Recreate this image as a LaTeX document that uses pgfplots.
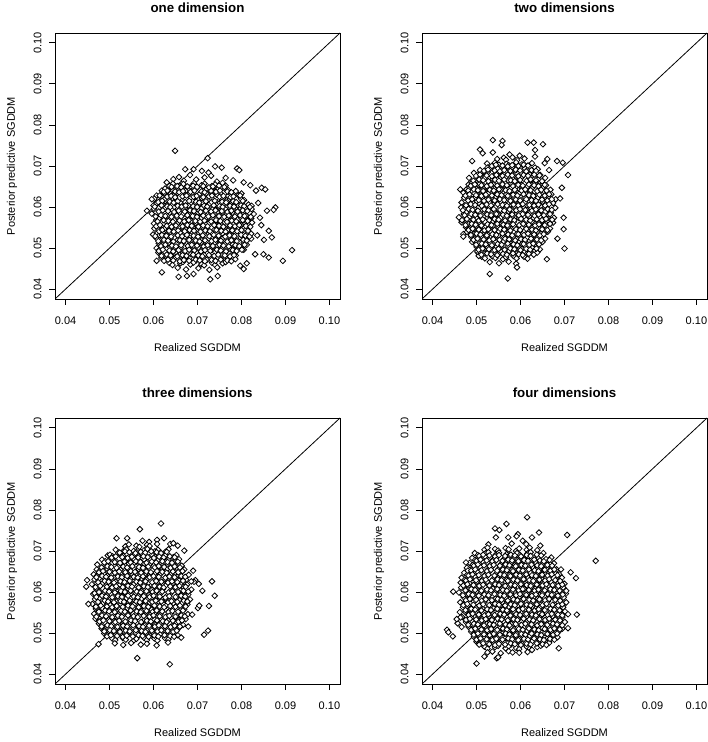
\documentclass[border=0pt]{standalone}
\usepackage{fontspec}
\setmainfont{Liberation Sans}
\usepackage{pgfplots}
\pgfplotsset{compat=1.18}
\pgfplotsset{
  rplot/.style={
    scale only axis, width=285pt, height=266pt,
    anchor=south west,
    xmin=0.0376, xmax=0.1024, ymin=0.0376, ymax=0.1024,
    xtick={0.04,0.05,0.06,0.07,0.08,0.09,0.10},
    ytick={0.04,0.05,0.06,0.07,0.08,0.09,0.10},
    xticklabels={0.04,0.05,0.06,0.07,0.08,0.09,0.10},
    yticklabels={0.04,0.05,0.06,0.07,0.08,0.09,0.10},
    xtick pos=left, ytick pos=left,
    tick align=outside, major tick length=6pt,
    every tick/.style={black, line width=0.8pt},
    axis line style={black, line width=0.8pt},
    tick label style={font=\fontsize{11}{13}\selectfont, text=black},
    label style={font=\fontsize{11}{13}\selectfont, text=black},
    title style={font=\bfseries\fontsize{13.3}{15}\selectfont, at={(axis description cs:0.5,1.071)}, anchor=center},
    xlabel style={at={(axis description cs:0.5,-0.184)}, anchor=center},
    ylabel style={at={(axis description cs:-0.151,0.5)}, anchor=center},
    xticklabel style={anchor=north},
    yticklabel style={rotate=90, anchor=south},
    xticklabel shift=8pt, yticklabel shift=4pt,
    xlabel={Realized SGDDM}, ylabel={Posterior predictive SGDDM},
    /pgf/number format/assume math mode=true,
  },
  pts/.style={only marks, mark=square*, mark size=2.0pt,
    mark options={rotate=45, fill=white, draw=black, line width=0.8pt}},
  diag/.style={black, line width=0.8pt},
}
\begin{document}
\begin{tikzpicture}
\path[use as bounding box] (0,0) rectangle (708pt,742pt);
% ---------------- one dimension
\begin{axis}[rplot, at={(55pt,443pt)}, title={one dimension}]
\addplot[diag] coordinates {(0.0376,0.0376) (0.1024,0.1024)};
\addplot[pts] coordinates {
(0.0649,0.0737) (0.0723,0.0719) (0.0672,0.0692) (0.0691,0.0692) (0.0710,0.0688) (0.0725,0.0684) (0.0740,0.0699) (0.0755,0.0696) (0.0790,0.0694) (0.0795,0.0690) (0.0630,0.0660) (0.0645,0.0668) (0.0846,0.0647) (0.0854,0.0643) (0.0833,0.0640) (0.0820,0.0653) (0.0805,0.0660) (0.0781,0.0665) (0.0764,0.0671)
(0.0658,0.0673) (0.0669,0.0664) (0.0697,0.0667) (0.0716,0.0672) (0.0744,0.0662) (0.0683,0.0678) (0.0731,0.0676)
(0.0636,0.0651) (0.0644,0.0657) (0.0661,0.0652) (0.0668,0.0656) (0.0685,0.0650) (0.0692,0.0658) (0.0709,0.0653) (0.0716,0.0657) (0.0733,0.0651) (0.0740,0.0655) (0.0757,0.0659) (0.0764,0.0652)
(0.0619,0.0640) (0.0626,0.0645) (0.0643,0.0641) (0.0650,0.0638) (0.0666,0.0644) (0.0673,0.0639) (0.0691,0.0643) (0.0698,0.0646) (0.0714,0.0640) (0.0721,0.0644) (0.0739,0.0638) (0.0746,0.0643) (0.0762,0.0645) (0.0770,0.0641) (0.0787,0.0639)
(0.0607,0.0628) (0.0624,0.0633) (0.0632,0.0627) (0.0649,0.0631) (0.0655,0.0634) (0.0672,0.0629) (0.0680,0.0632) (0.0697,0.0626) (0.0704,0.0631) (0.0721,0.0633) (0.0727,0.0628) (0.0744,0.0630) (0.0752,0.0634) (0.0769,0.0627) (0.0776,0.0632) (0.0793,0.0629) (0.0800,0.0633)
(0.0602,0.0620) (0.0618,0.0615) (0.0625,0.0619) (0.0643,0.0622) (0.0650,0.0616) (0.0667,0.0618) (0.0674,0.0621) (0.0690,0.0615) (0.0703,0.0619) (0.0710,0.0622) (0.0726,0.0616) (0.0733,0.0620) (0.0751,0.0617) (0.0758,0.0621) (0.0774,0.0619) (0.0781,0.0615) (0.0799,0.0620) (0.0806,0.0617)
(0.0600,0.0604) (0.0607,0.0609) (0.0625,0.0603) (0.0632,0.0607) (0.0648,0.0610) (0.0655,0.0605) (0.0673,0.0608) (0.0680,0.0603) (0.0696,0.0609) (0.0703,0.0606) (0.0721,0.0602) (0.0728,0.0608) (0.0744,0.0605) (0.0751,0.0610) (0.0768,0.0604) (0.0775,0.0607) (0.0793,0.0603) (0.0800,0.0609) (0.0816,0.0606) (0.0823,0.0603)
(0.0601,0.0596) (0.0619,0.0591) (0.0626,0.0597) (0.0642,0.0592) (0.0655,0.0595) (0.0661,0.0598) (0.0678,0.0591) (0.0685,0.0596) (0.0703,0.0593) (0.0709,0.0597) (0.0727,0.0592) (0.0734,0.0595) (0.0750,0.0598) (0.0757,0.0591) (0.0775,0.0596) (0.0782,0.0593) (0.0798,0.0597) (0.0805,0.0590) (0.0823,0.0595)
(0.0596,0.0584) (0.0612,0.0579) (0.0619,0.0583) (0.0637,0.0586) (0.0643,0.0580) (0.0660,0.0585) (0.0667,0.0582) (0.0685,0.0578) (0.0691,0.0584) (0.0709,0.0581) (0.0715,0.0585) (0.0733,0.0579) (0.0739,0.0583) (0.0756,0.0586) (0.0763,0.0580) (0.0781,0.0584) (0.0787,0.0581) (0.0805,0.0585) (0.0811,0.0579) (0.0828,0.0583)
(0.0606,0.0568) (0.0613,0.0573) (0.0631,0.0567) (0.0638,0.0571) (0.0654,0.0574) (0.0661,0.0569) (0.0679,0.0572) (0.0686,0.0566) (0.0702,0.0571) (0.0709,0.0574) (0.0727,0.0568) (0.0733,0.0572) (0.0751,0.0569) (0.0757,0.0573) (0.0774,0.0567) (0.0781,0.0571) (0.0799,0.0574) (0.0805,0.0568) (0.0822,0.0572)
(0.0601,0.0560) (0.0608,0.0555) (0.0624,0.0559) (0.0631,0.0562) (0.0649,0.0556) (0.0656,0.0561) (0.0672,0.0557) (0.0679,0.0554) (0.0697,0.0560) (0.0703,0.0555) (0.0720,0.0559) (0.0727,0.0562) (0.0745,0.0556) (0.0752,0.0560) (0.0768,0.0557) (0.0775,0.0554) (0.0793,0.0561) (0.0799,0.0556) (0.0817,0.0559) (0.0824,0.0562)
(0.0602,0.0548) (0.0619,0.0543) (0.0625,0.0547) (0.0643,0.0550) (0.0649,0.0544) (0.0667,0.0548) (0.0673,0.0545) (0.0690,0.0549) (0.0697,0.0543) (0.0715,0.0547) (0.0721,0.0550) (0.0738,0.0544) (0.0745,0.0548) (0.0762,0.0546) (0.0769,0.0542) (0.0786,0.0547) (0.0792,0.0550) (0.0810,0.0545) (0.0817,0.0549)
(0.0599,0.0533) (0.0608,0.0536) (0.0613,0.0531) (0.0631,0.0535) (0.0637,0.0538) (0.0655,0.0532) (0.0661,0.0537) (0.0679,0.0533) (0.0684,0.0530) (0.0703,0.0536) (0.0709,0.0531) (0.0726,0.0535) (0.0732,0.0538) (0.0750,0.0532) (0.0757,0.0536) (0.0774,0.0533) (0.0780,0.0530) (0.0798,0.0537) (0.0804,0.0532) (0.0822,0.0535)
(0.0607,0.0524) (0.0614,0.0519) (0.0630,0.0523) (0.0637,0.0526) (0.0655,0.0520) (0.0662,0.0525) (0.0678,0.0521) (0.0685,0.0518) (0.0703,0.0524) (0.0710,0.0519) (0.0726,0.0523) (0.0733,0.0526) (0.0750,0.0520) (0.0757,0.0524) (0.0775,0.0521) (0.0782,0.0518) (0.0798,0.0525) (0.0805,0.0520) (0.0822,0.0523)
(0.0612,0.0512) (0.0620,0.0507) (0.0636,0.0511) (0.0643,0.0514) (0.0661,0.0508) (0.0667,0.0513) (0.0684,0.0509) (0.0691,0.0506) (0.0709,0.0512) (0.0715,0.0507) (0.0733,0.0511) (0.0740,0.0514) (0.0757,0.0508) (0.0764,0.0512) (0.0780,0.0509) (0.0787,0.0506) (0.0805,0.0513) (0.0812,0.0508)
(0.0607,0.0500) (0.0613,0.0495) (0.0631,0.0499) (0.0638,0.0502) (0.0655,0.0496) (0.0662,0.0501) (0.0679,0.0497) (0.0686,0.0494) (0.0702,0.0500) (0.0709,0.0495) (0.0727,0.0499) (0.0734,0.0502) (0.0750,0.0496) (0.0757,0.0500) (0.0775,0.0497) (0.0782,0.0494) (0.0799,0.0501) (0.0805,0.0496)
(0.0613,0.0488) (0.0620,0.0483) (0.0637,0.0487) (0.0643,0.0490) (0.0660,0.0484) (0.0667,0.0489) (0.0685,0.0485) (0.0691,0.0482) (0.0708,0.0488) (0.0715,0.0483) (0.0733,0.0487) (0.0740,0.0490) (0.0756,0.0484) (0.0763,0.0488) (0.0781,0.0485) (0.0787,0.0482)
(0.0618,0.0476) (0.0625,0.0471) (0.0643,0.0475) (0.0650,0.0478) (0.0666,0.0472) (0.0673,0.0477) (0.0691,0.0473) (0.0697,0.0470) (0.0714,0.0476) (0.0721,0.0471) (0.0739,0.0475) (0.0746,0.0478) (0.0762,0.0472) (0.0769,0.0476) (0.0786,0.0473)
(0.0636,0.0464) (0.0643,0.0459) (0.0661,0.0463) (0.0667,0.0466) (0.0684,0.0460) (0.0691,0.0465) (0.0709,0.0461) (0.0715,0.0458) (0.0733,0.0464) (0.0740,0.0459) (0.0757,0.0463) (0.0764,0.0466)
(0.0655,0.0452) (0.0674,0.0448) (0.0702,0.0451) (0.0727,0.0447) (0.0745,0.0453)
(0.0877,0.0599) (0.0873,0.0593) (0.0858,0.0591) (0.0838,0.0610) (0.0842,0.0574) (0.0845,0.0556) (0.0836,0.0531) (0.0851,0.0520) (0.0862,0.0542) (0.0869,0.0526) (0.0915,0.0495) (0.0894,0.0469) (0.0850,0.0485) (0.0862,0.0477) (0.0831,0.0485) (0.0797,0.0457) (0.0805,0.0449) (0.0812,0.0463) (0.0729,0.0424) (0.0746,0.0432) (0.0657,0.0430) (0.0619,0.0441) (0.0676,0.0432) (0.0691,0.0437) (0.0607,0.0469) (0.0611,0.0489) (0.0585,0.0591) (0.0596,0.0619)
};
\addplot[pts] coordinates {
(0.0641,0.0649) (0.0654,0.0651) (0.0663,0.0648) (0.0677,0.0650) (0.0690,0.0652) (0.0699,0.0649) (0.0713,0.0651) (0.0726,0.0648) (0.0735,0.0650) (0.0749,0.0652) (0.0761,0.0649)
(0.0623,0.0637) (0.0632,0.0640) (0.0649,0.0638) (0.0658,0.0636) (0.0667,0.0639) (0.0684,0.0637) (0.0693,0.0640) (0.0709,0.0638) (0.0716,0.0636) (0.0731,0.0639) (0.0742,0.0637) (0.0751,0.0640) (0.0768,0.0638) (0.0777,0.0636)
(0.0614,0.0628) (0.0631,0.0625) (0.0640,0.0627) (0.0649,0.0624) (0.0666,0.0626) (0.0675,0.0628) (0.0691,0.0625) (0.0698,0.0627) (0.0713,0.0624) (0.0726,0.0626) (0.0733,0.0628) (0.0750,0.0625) (0.0759,0.0627) (0.0775,0.0624) (0.0782,0.0626) (0.0797,0.0628)
(0.0611,0.0612) (0.0620,0.0615) (0.0637,0.0613) (0.0646,0.0611) (0.0655,0.0614) (0.0672,0.0612) (0.0681,0.0615) (0.0697,0.0613) (0.0704,0.0611) (0.0719,0.0614) (0.0732,0.0612) (0.0739,0.0615) (0.0756,0.0613) (0.0765,0.0611) (0.0781,0.0614) (0.0788,0.0612) (0.0803,0.0615)
(0.0603,0.0601) (0.0618,0.0604) (0.0631,0.0602) (0.0638,0.0600) (0.0655,0.0603) (0.0664,0.0601) (0.0673,0.0604) (0.0690,0.0602) (0.0699,0.0600) (0.0715,0.0603) (0.0722,0.0601) (0.0737,0.0604) (0.0750,0.0602) (0.0757,0.0600) (0.0774,0.0603) (0.0783,0.0601) (0.0799,0.0604) (0.0806,0.0602) (0.0819,0.0600)
(0.0612,0.0589) (0.0621,0.0592) (0.0633,0.0590) (0.0647,0.0588) (0.0657,0.0591) (0.0671,0.0589) (0.0683,0.0592) (0.0692,0.0590) (0.0707,0.0588) (0.0719,0.0591) (0.0731,0.0589) (0.0741,0.0592) (0.0755,0.0590) (0.0768,0.0588) (0.0777,0.0591) (0.0791,0.0589) (0.0803,0.0592) (0.0813,0.0590)
(0.0605,0.0577) (0.0617,0.0580) (0.0627,0.0578) (0.0641,0.0576) (0.0653,0.0579) (0.0663,0.0577) (0.0677,0.0580) (0.0689,0.0578) (0.0699,0.0576) (0.0713,0.0579) (0.0725,0.0577) (0.0735,0.0580) (0.0749,0.0578) (0.0761,0.0576) (0.0771,0.0579) (0.0785,0.0577) (0.0797,0.0580) (0.0807,0.0578) (0.0821,0.0576)
(0.0609,0.0565) (0.0623,0.0568) (0.0634,0.0566) (0.0644,0.0564) (0.0659,0.0567) (0.0670,0.0565) (0.0680,0.0568) (0.0695,0.0566) (0.0706,0.0564) (0.0716,0.0567) (0.0731,0.0565) (0.0742,0.0568) (0.0752,0.0566) (0.0767,0.0564) (0.0778,0.0567) (0.0788,0.0565) (0.0803,0.0568) (0.0814,0.0566)
(0.0606,0.0553) (0.0615,0.0556) (0.0630,0.0554) (0.0641,0.0552) (0.0651,0.0555) (0.0666,0.0553) (0.0677,0.0556) (0.0687,0.0554) (0.0702,0.0552) (0.0713,0.0555) (0.0723,0.0553) (0.0738,0.0556) (0.0749,0.0554) (0.0759,0.0552) (0.0774,0.0555) (0.0785,0.0553) (0.0795,0.0556) (0.0810,0.0554) (0.0820,0.0552)
(0.0613,0.0541) (0.0620,0.0544) (0.0635,0.0542) (0.0646,0.0540) (0.0656,0.0543) (0.0671,0.0541) (0.0682,0.0544) (0.0692,0.0542) (0.0707,0.0540) (0.0718,0.0543) (0.0728,0.0541) (0.0743,0.0544) (0.0754,0.0542) (0.0764,0.0540) (0.0779,0.0543) (0.0790,0.0541) (0.0800,0.0544) (0.0815,0.0542)
(0.0604,0.0529) (0.0619,0.0532) (0.0629,0.0530) (0.0640,0.0528) (0.0655,0.0531) (0.0665,0.0529) (0.0676,0.0532) (0.0691,0.0530) (0.0701,0.0528) (0.0712,0.0531) (0.0727,0.0529) (0.0737,0.0532) (0.0748,0.0530) (0.0763,0.0528) (0.0773,0.0531) (0.0784,0.0529) (0.0799,0.0532) (0.0809,0.0530) (0.0818,0.0528)
(0.0611,0.0517) (0.0624,0.0520) (0.0633,0.0518) (0.0645,0.0516) (0.0660,0.0519) (0.0669,0.0517) (0.0681,0.0520) (0.0696,0.0518) (0.0705,0.0516) (0.0717,0.0519) (0.0732,0.0517) (0.0741,0.0520) (0.0753,0.0518) (0.0768,0.0516) (0.0777,0.0519) (0.0789,0.0517) (0.0804,0.0520) (0.0812,0.0518)
(0.0617,0.0505) (0.0627,0.0508) (0.0642,0.0506) (0.0651,0.0504) (0.0663,0.0507) (0.0678,0.0505) (0.0687,0.0508) (0.0699,0.0506) (0.0714,0.0504) (0.0723,0.0507) (0.0735,0.0505) (0.0750,0.0508) (0.0759,0.0506) (0.0771,0.0504) (0.0786,0.0507) (0.0795,0.0505) (0.0807,0.0508)
(0.0612,0.0493) (0.0621,0.0496) (0.0636,0.0494) (0.0645,0.0492) (0.0657,0.0495) (0.0672,0.0493) (0.0681,0.0496) (0.0693,0.0494) (0.0708,0.0492) (0.0717,0.0495) (0.0729,0.0493) (0.0744,0.0496) (0.0753,0.0494) (0.0765,0.0492) (0.0780,0.0495) (0.0789,0.0493) (0.0801,0.0496)
(0.0618,0.0481) (0.0630,0.0484) (0.0639,0.0482) (0.0654,0.0480) (0.0666,0.0483) (0.0675,0.0481) (0.0690,0.0484) (0.0702,0.0482) (0.0711,0.0480) (0.0726,0.0483) (0.0738,0.0481) (0.0747,0.0484) (0.0762,0.0482) (0.0774,0.0480) (0.0783,0.0483)
(0.0624,0.0469) (0.0633,0.0472) (0.0645,0.0470) (0.0660,0.0468) (0.0669,0.0471) (0.0681,0.0469) (0.0696,0.0472) (0.0705,0.0470) (0.0717,0.0468) (0.0732,0.0471) (0.0741,0.0469) (0.0753,0.0472) (0.0768,0.0470) (0.0777,0.0468)
};
\end{axis}
% ---------------- two dimensions
\begin{axis}[rplot, at={(422pt,443pt)}, title={two dimensions}]
\addplot[diag] coordinates {(0.0376,0.0376) (0.1024,0.1024)};
\addplot[pts] coordinates {
(0.0537,0.0763) (0.0559,0.0761) (0.0557,0.0751) (0.0616,0.0757) (0.0630,0.0757) (0.0651,0.0753) (0.0508,0.0740) (0.0514,0.0731) (0.0490,0.0712) (0.0537,0.0733) (0.0633,0.0739) (0.0633,0.0723) (0.0575,0.0728) (0.0598,0.0725) (0.0655,0.0707) (0.0665,0.0690) (0.0708,0.0678) (0.0696,0.0708) (0.0683,0.0712) (0.0661,0.0717)
(0.0547,0.0717) (0.0562,0.0720) (0.0567,0.0715) (0.0582,0.0721) (0.0592,0.0714) (0.0609,0.0718)
(0.0524,0.0706) (0.0542,0.0708) (0.0551,0.0703) (0.0568,0.0705) (0.0573,0.0702) (0.0590,0.0709) (0.0603,0.0704) (0.0611,0.0701) (0.0626,0.0707)
(0.0508,0.0690) (0.0525,0.0696) (0.0530,0.0692) (0.0548,0.0694) (0.0557,0.0689) (0.0574,0.0693) (0.0581,0.0697) (0.0591,0.0691) (0.0610,0.0694) (0.0616,0.0690) (0.0633,0.0696) (0.0639,0.0692)
(0.0494,0.0683) (0.0503,0.0679) (0.0520,0.0681) (0.0525,0.0684) (0.0541,0.0678) (0.0555,0.0682) (0.0562,0.0680) (0.0579,0.0684) (0.0585,0.0677) (0.0602,0.0681) (0.0616,0.0683) (0.0621,0.0679) (0.0638,0.0682) (0.0645,0.0678)
(0.0483,0.0671) (0.0500,0.0666) (0.0514,0.0670) (0.0519,0.0672) (0.0536,0.0667) (0.0549,0.0669) (0.0555,0.0673) (0.0572,0.0665) (0.0581,0.0670) (0.0597,0.0668) (0.0602,0.0672) (0.0619,0.0666) (0.0633,0.0670) (0.0640,0.0667) (0.0656,0.0671)
(0.0482,0.0655) (0.0489,0.0659) (0.0507,0.0656) (0.0514,0.0654) (0.0531,0.0660) (0.0538,0.0655) (0.0555,0.0658) (0.0561,0.0653) (0.0579,0.0657) (0.0586,0.0660) (0.0603,0.0654) (0.0610,0.0658) (0.0627,0.0655) (0.0633,0.0659) (0.0650,0.0656) (0.0658,0.0653)
(0.0477,0.0643) (0.0484,0.0647) (0.0501,0.0644) (0.0507,0.0641) (0.0525,0.0646) (0.0532,0.0643) (0.0549,0.0648) (0.0556,0.0642) (0.0573,0.0645) (0.0579,0.0648) (0.0597,0.0643) (0.0604,0.0646) (0.0621,0.0641) (0.0627,0.0647) (0.0645,0.0644) (0.0652,0.0648) (0.0668,0.0642)
(0.0470,0.0635) (0.0478,0.0631) (0.0495,0.0634) (0.0502,0.0630) (0.0519,0.0636) (0.0526,0.0632) (0.0543,0.0629) (0.0550,0.0635) (0.0567,0.0631) (0.0574,0.0636) (0.0591,0.0630) (0.0598,0.0634) (0.0615,0.0632) (0.0622,0.0636) (0.0639,0.0629) (0.0646,0.0633) (0.0663,0.0635) (0.0670,0.0631)
(0.0472,0.0623) (0.0489,0.0619) (0.0496,0.0622) (0.0513,0.0624) (0.0520,0.0618) (0.0537,0.0621) (0.0544,0.0625) (0.0561,0.0620) (0.0568,0.0617) (0.0585,0.0623) (0.0592,0.0619) (0.0609,0.0624) (0.0616,0.0621) (0.0633,0.0618) (0.0640,0.0623) (0.0657,0.0620) (0.0664,0.0624) (0.0680,0.0619)
(0.0466,0.0611) (0.0483,0.0607) (0.0490,0.0612) (0.0507,0.0608) (0.0514,0.0605) (0.0531,0.0610) (0.0538,0.0606) (0.0555,0.0612) (0.0562,0.0608) (0.0579,0.0605) (0.0586,0.0611) (0.0603,0.0607) (0.0610,0.0612) (0.0627,0.0606) (0.0634,0.0609) (0.0651,0.0612) (0.0657,0.0607) (0.0674,0.0610)
(0.0465,0.0599) (0.0472,0.0595) (0.0489,0.0600) (0.0495,0.0596) (0.0513,0.0593) (0.0519,0.0598) (0.0537,0.0595) (0.0543,0.0600) (0.0561,0.0594) (0.0567,0.0597) (0.0585,0.0601) (0.0591,0.0595) (0.0608,0.0598) (0.0615,0.0593) (0.0632,0.0599) (0.0639,0.0596) (0.0656,0.0600) (0.0663,0.0594) (0.0679,0.0598)
(0.0471,0.0583) (0.0477,0.0588) (0.0495,0.0584) (0.0501,0.0581) (0.0519,0.0587) (0.0525,0.0583) (0.0543,0.0588) (0.0549,0.0582) (0.0567,0.0585) (0.0573,0.0589) (0.0591,0.0583) (0.0597,0.0586) (0.0615,0.0581) (0.0621,0.0587) (0.0639,0.0584) (0.0645,0.0588) (0.0663,0.0582) (0.0669,0.0586)
(0.0460,0.0575) (0.0477,0.0571) (0.0484,0.0576) (0.0501,0.0572) (0.0508,0.0569) (0.0525,0.0574) (0.0532,0.0577) (0.0549,0.0571) (0.0556,0.0575) (0.0573,0.0570) (0.0580,0.0576) (0.0597,0.0573) (0.0604,0.0569) (0.0621,0.0575) (0.0628,0.0571) (0.0645,0.0576) (0.0652,0.0572) (0.0669,0.0569) (0.0676,0.0574)
(0.0466,0.0563) (0.0483,0.0559) (0.0490,0.0564) (0.0507,0.0560) (0.0513,0.0557) (0.0531,0.0562) (0.0537,0.0565) (0.0555,0.0559) (0.0561,0.0563) (0.0579,0.0558) (0.0585,0.0564) (0.0603,0.0561) (0.0609,0.0557) (0.0627,0.0563) (0.0633,0.0559) (0.0651,0.0564) (0.0657,0.0560) (0.0674,0.0562)
(0.0476,0.0551) (0.0483,0.0547) (0.0500,0.0552) (0.0507,0.0548) (0.0524,0.0545) (0.0531,0.0550) (0.0548,0.0553) (0.0555,0.0547) (0.0572,0.0551) (0.0579,0.0546) (0.0596,0.0552) (0.0603,0.0549) (0.0620,0.0545) (0.0627,0.0551) (0.0644,0.0547) (0.0651,0.0552) (0.0667,0.0548)
(0.0478,0.0539) (0.0495,0.0535) (0.0502,0.0540) (0.0519,0.0536) (0.0526,0.0533) (0.0543,0.0538) (0.0550,0.0541) (0.0567,0.0535) (0.0574,0.0539) (0.0591,0.0534) (0.0598,0.0540) (0.0615,0.0537) (0.0622,0.0533) (0.0639,0.0539) (0.0646,0.0535) (0.0662,0.0540)
(0.0488,0.0527) (0.0495,0.0523) (0.0512,0.0528) (0.0519,0.0524) (0.0536,0.0521) (0.0543,0.0526) (0.0560,0.0529) (0.0567,0.0523) (0.0584,0.0527) (0.0591,0.0522) (0.0608,0.0528) (0.0615,0.0525) (0.0632,0.0521) (0.0639,0.0527) (0.0656,0.0523)
(0.0490,0.0515) (0.0507,0.0511) (0.0514,0.0516) (0.0531,0.0512) (0.0538,0.0509) (0.0555,0.0514) (0.0562,0.0517) (0.0579,0.0511) (0.0586,0.0515) (0.0603,0.0510) (0.0610,0.0516) (0.0627,0.0513) (0.0634,0.0509) (0.0650,0.0515)
(0.0500,0.0503) (0.0507,0.0499) (0.0524,0.0504) (0.0531,0.0500) (0.0548,0.0497) (0.0555,0.0502) (0.0572,0.0505) (0.0579,0.0499) (0.0596,0.0503) (0.0603,0.0498) (0.0620,0.0504) (0.0627,0.0501) (0.0644,0.0497)
(0.0502,0.0491) (0.0519,0.0487) (0.0526,0.0492) (0.0543,0.0488) (0.0550,0.0485) (0.0567,0.0490) (0.0574,0.0493) (0.0591,0.0487) (0.0598,0.0491) (0.0615,0.0486) (0.0622,0.0492) (0.0638,0.0489)
(0.0512,0.0479) (0.0519,0.0475) (0.0536,0.0480) (0.0543,0.0476) (0.0560,0.0473) (0.0567,0.0478) (0.0584,0.0481) (0.0591,0.0475) (0.0608,0.0479) (0.0616,0.0474)
(0.0530,0.0466) (0.0551,0.0463) (0.0573,0.0467) (0.0590,0.0462)
(0.0463,0.0643) (0.0470,0.0570) (0.0470,0.0534) (0.0470,0.0528) (0.0571,0.0426) (0.0530,0.0437) (0.0592,0.0453) (0.0660,0.0473) (0.0700,0.0499) (0.0694,0.0647) (0.0690,0.0621) (0.0698,0.0574) (0.0698,0.0546) (0.0684,0.0523) (0.0505,0.0487) (0.0505,0.0481)
};
\addplot[pts] coordinates {
(0.0535,0.0700) (0.0544,0.0703) (0.0559,0.0701) (0.0571,0.0699) (0.0581,0.0702) (0.0595,0.0700) (0.0607,0.0703) (0.0617,0.0701)
(0.0517,0.0688) (0.0526,0.0691) (0.0541,0.0689) (0.0553,0.0687) (0.0563,0.0690) (0.0577,0.0688) (0.0589,0.0691) (0.0599,0.0689) (0.0613,0.0687) (0.0625,0.0690) (0.0635,0.0688)
(0.0499,0.0676) (0.0508,0.0679) (0.0523,0.0677) (0.0535,0.0675) (0.0545,0.0678) (0.0559,0.0676) (0.0571,0.0679) (0.0581,0.0677) (0.0595,0.0675) (0.0607,0.0678) (0.0617,0.0676) (0.0631,0.0679) (0.0643,0.0677)
(0.0493,0.0664) (0.0506,0.0667) (0.0515,0.0665) (0.0527,0.0663) (0.0542,0.0666) (0.0551,0.0664) (0.0563,0.0667) (0.0578,0.0665) (0.0587,0.0663) (0.0599,0.0666) (0.0614,0.0664) (0.0623,0.0667) (0.0635,0.0665) (0.0649,0.0663)
(0.0487,0.0652) (0.0496,0.0655) (0.0511,0.0653) (0.0523,0.0651) (0.0533,0.0654) (0.0547,0.0652) (0.0559,0.0655) (0.0569,0.0653) (0.0583,0.0651) (0.0595,0.0654) (0.0605,0.0652) (0.0619,0.0655) (0.0631,0.0653) (0.0641,0.0651) (0.0655,0.0654)
(0.0481,0.0640) (0.0494,0.0643) (0.0503,0.0641) (0.0515,0.0639) (0.0530,0.0642) (0.0539,0.0640) (0.0551,0.0643) (0.0566,0.0641) (0.0575,0.0639) (0.0587,0.0642) (0.0602,0.0640) (0.0611,0.0643) (0.0623,0.0641) (0.0638,0.0639) (0.0647,0.0642) (0.0659,0.0640)
(0.0475,0.0628) (0.0484,0.0631) (0.0499,0.0629) (0.0511,0.0627) (0.0521,0.0630) (0.0535,0.0628) (0.0547,0.0631) (0.0557,0.0629) (0.0571,0.0627) (0.0583,0.0630) (0.0593,0.0628) (0.0607,0.0631) (0.0619,0.0629) (0.0629,0.0627) (0.0643,0.0630) (0.0655,0.0628) (0.0665,0.0631)
(0.0481,0.0616) (0.0490,0.0619) (0.0505,0.0617) (0.0517,0.0615) (0.0527,0.0618) (0.0541,0.0616) (0.0553,0.0619) (0.0563,0.0617) (0.0577,0.0615) (0.0589,0.0618) (0.0599,0.0616) (0.0613,0.0619) (0.0625,0.0617) (0.0635,0.0615) (0.0649,0.0618) (0.0661,0.0616) (0.0671,0.0619)
(0.0476,0.0604) (0.0487,0.0607) (0.0497,0.0605) (0.0512,0.0603) (0.0523,0.0606) (0.0533,0.0604) (0.0548,0.0607) (0.0559,0.0605) (0.0569,0.0603) (0.0584,0.0606) (0.0595,0.0604) (0.0605,0.0607) (0.0620,0.0605) (0.0631,0.0603) (0.0641,0.0606) (0.0656,0.0604) (0.0665,0.0607)
(0.0469,0.0592) (0.0482,0.0595) (0.0491,0.0593) (0.0503,0.0591) (0.0518,0.0594) (0.0527,0.0592) (0.0539,0.0595) (0.0554,0.0593) (0.0563,0.0591) (0.0575,0.0594) (0.0590,0.0592) (0.0599,0.0595) (0.0611,0.0593) (0.0626,0.0591) (0.0635,0.0594) (0.0647,0.0592) (0.0662,0.0595) (0.0671,0.0593)
(0.0473,0.0580) (0.0488,0.0583) (0.0497,0.0581) (0.0509,0.0579) (0.0524,0.0582) (0.0533,0.0580) (0.0545,0.0583) (0.0560,0.0581) (0.0569,0.0579) (0.0581,0.0582) (0.0596,0.0580) (0.0605,0.0583) (0.0617,0.0581) (0.0632,0.0579) (0.0641,0.0582) (0.0653,0.0580) (0.0667,0.0583)
(0.0467,0.0568) (0.0478,0.0571) (0.0493,0.0569) (0.0505,0.0567) (0.0514,0.0570) (0.0529,0.0568) (0.0541,0.0571) (0.0550,0.0569) (0.0565,0.0567) (0.0577,0.0570) (0.0586,0.0568) (0.0601,0.0571) (0.0613,0.0569) (0.0622,0.0567) (0.0637,0.0570) (0.0649,0.0568) (0.0658,0.0571) (0.0672,0.0569)
(0.0475,0.0556) (0.0489,0.0559) (0.0498,0.0557) (0.0511,0.0555) (0.0525,0.0558) (0.0534,0.0556) (0.0547,0.0559) (0.0561,0.0557) (0.0570,0.0555) (0.0583,0.0558) (0.0597,0.0556) (0.0606,0.0559) (0.0619,0.0557) (0.0633,0.0555) (0.0642,0.0558) (0.0655,0.0556) (0.0667,0.0559)
(0.0482,0.0544) (0.0491,0.0547) (0.0505,0.0545) (0.0518,0.0543) (0.0527,0.0546) (0.0541,0.0544) (0.0554,0.0547) (0.0563,0.0545) (0.0577,0.0543) (0.0590,0.0546) (0.0599,0.0544) (0.0613,0.0547) (0.0626,0.0545) (0.0635,0.0543) (0.0649,0.0546) (0.0661,0.0544)
(0.0487,0.0532) (0.0500,0.0535) (0.0509,0.0533) (0.0523,0.0531) (0.0536,0.0534) (0.0545,0.0532) (0.0559,0.0535) (0.0572,0.0533) (0.0581,0.0531) (0.0595,0.0534) (0.0608,0.0532) (0.0617,0.0535) (0.0631,0.0533) (0.0644,0.0531) (0.0653,0.0534)
(0.0493,0.0520) (0.0502,0.0523) (0.0516,0.0521) (0.0529,0.0519) (0.0538,0.0522) (0.0552,0.0520) (0.0565,0.0523) (0.0574,0.0521) (0.0588,0.0519) (0.0601,0.0522) (0.0610,0.0520) (0.0624,0.0523) (0.0637,0.0521) (0.0647,0.0519)
(0.0499,0.0508) (0.0512,0.0511) (0.0521,0.0509) (0.0535,0.0507) (0.0548,0.0510) (0.0557,0.0508) (0.0571,0.0511) (0.0584,0.0509) (0.0593,0.0507) (0.0607,0.0510) (0.0620,0.0508) (0.0629,0.0511) (0.0642,0.0509)
(0.0505,0.0496) (0.0514,0.0499) (0.0528,0.0497) (0.0541,0.0495) (0.0550,0.0498) (0.0564,0.0496) (0.0577,0.0499) (0.0586,0.0497) (0.0600,0.0495) (0.0613,0.0498) (0.0622,0.0496) (0.0636,0.0499)
(0.0511,0.0484) (0.0524,0.0487) (0.0533,0.0485) (0.0547,0.0483) (0.0560,0.0486) (0.0569,0.0484) (0.0583,0.0487) (0.0596,0.0485) (0.0605,0.0483) (0.0619,0.0486) (0.0630,0.0484)
};
\end{axis}
% ---------------- three dimensions
\begin{axis}[rplot, at={(55pt,58pt)}, title={three dimensions}]
\addplot[diag] coordinates {(0.0376,0.0376) (0.1024,0.1024)};
\addplot[pts] coordinates {
(0.0617,0.0767) (0.0569,0.0753) (0.0516,0.0731) (0.0540,0.0731) (0.0624,0.0731) (0.0638,0.0717) (0.0645,0.0719) (0.0655,0.0713) (0.0670,0.0701) (0.0496,0.0689) (0.0590,0.0722) (0.0575,0.0725) (0.0608,0.0727)
(0.0536,0.0711) (0.0544,0.0716) (0.0561,0.0713) (0.0568,0.0710) (0.0585,0.0715) (0.0591,0.0712) (0.0608,0.0717)
(0.0514,0.0703) (0.0531,0.0699) (0.0538,0.0704) (0.0555,0.0700) (0.0562,0.0697) (0.0579,0.0702) (0.0586,0.0705) (0.0603,0.0699) (0.0610,0.0703) (0.0627,0.0698) (0.0634,0.0704)
(0.0501,0.0691) (0.0507,0.0687) (0.0525,0.0692) (0.0531,0.0688) (0.0549,0.0685) (0.0555,0.0690) (0.0573,0.0693) (0.0579,0.0687) (0.0597,0.0691) (0.0603,0.0686) (0.0621,0.0692) (0.0627,0.0689) (0.0645,0.0685) (0.0652,0.0690)
(0.0483,0.0679) (0.0490,0.0675) (0.0507,0.0680) (0.0514,0.0676) (0.0531,0.0673) (0.0538,0.0678) (0.0555,0.0681) (0.0562,0.0675) (0.0579,0.0679) (0.0586,0.0674) (0.0603,0.0680) (0.0610,0.0677) (0.0627,0.0673) (0.0634,0.0679) (0.0651,0.0675) (0.0658,0.0680)
(0.0472,0.0667) (0.0489,0.0663) (0.0496,0.0668) (0.0513,0.0664) (0.0520,0.0661) (0.0537,0.0666) (0.0544,0.0669) (0.0561,0.0663) (0.0568,0.0667) (0.0585,0.0662) (0.0592,0.0668) (0.0609,0.0665) (0.0616,0.0661) (0.0633,0.0667) (0.0640,0.0663) (0.0657,0.0668) (0.0664,0.0664)
(0.0471,0.0655) (0.0477,0.0651) (0.0495,0.0656) (0.0501,0.0652) (0.0519,0.0649) (0.0525,0.0654) (0.0543,0.0657) (0.0549,0.0651) (0.0567,0.0655) (0.0573,0.0650) (0.0591,0.0656) (0.0597,0.0653) (0.0615,0.0649) (0.0621,0.0655) (0.0639,0.0651) (0.0645,0.0656) (0.0663,0.0652) (0.0670,0.0655)
(0.0464,0.0643) (0.0471,0.0639) (0.0488,0.0644) (0.0495,0.0640) (0.0512,0.0637) (0.0519,0.0642) (0.0536,0.0645) (0.0543,0.0639) (0.0560,0.0643) (0.0567,0.0638) (0.0584,0.0644) (0.0591,0.0641) (0.0608,0.0637) (0.0615,0.0643) (0.0632,0.0639) (0.0639,0.0644) (0.0656,0.0640) (0.0663,0.0637) (0.0680,0.0642)
(0.0466,0.0631) (0.0483,0.0627) (0.0490,0.0632) (0.0507,0.0628) (0.0514,0.0625) (0.0531,0.0630) (0.0538,0.0633) (0.0555,0.0627) (0.0562,0.0631) (0.0579,0.0626) (0.0586,0.0632) (0.0603,0.0629) (0.0610,0.0625) (0.0627,0.0631) (0.0634,0.0627) (0.0651,0.0632) (0.0658,0.0628) (0.0674,0.0630)
(0.0460,0.0619) (0.0476,0.0615) (0.0483,0.0620) (0.0500,0.0616) (0.0507,0.0613) (0.0524,0.0618) (0.0531,0.0621) (0.0548,0.0615) (0.0555,0.0619) (0.0572,0.0614) (0.0579,0.0620) (0.0596,0.0617) (0.0603,0.0613) (0.0620,0.0619) (0.0627,0.0615) (0.0644,0.0620) (0.0651,0.0616) (0.0668,0.0613) (0.0676,0.0618)
(0.0470,0.0607) (0.0477,0.0603) (0.0494,0.0608) (0.0501,0.0604) (0.0518,0.0601) (0.0525,0.0606) (0.0542,0.0609) (0.0549,0.0603) (0.0566,0.0607) (0.0573,0.0602) (0.0590,0.0608) (0.0597,0.0605) (0.0614,0.0601) (0.0621,0.0607) (0.0638,0.0603) (0.0645,0.0608) (0.0662,0.0604) (0.0669,0.0601) (0.0686,0.0606)
(0.0463,0.0595) (0.0470,0.0591) (0.0487,0.0596) (0.0494,0.0592) (0.0511,0.0589) (0.0518,0.0594) (0.0535,0.0597) (0.0542,0.0591) (0.0559,0.0595) (0.0566,0.0590) (0.0583,0.0596) (0.0590,0.0593) (0.0607,0.0589) (0.0614,0.0595) (0.0631,0.0591) (0.0638,0.0596) (0.0655,0.0592) (0.0662,0.0589) (0.0679,0.0594)
(0.0467,0.0583) (0.0484,0.0579) (0.0491,0.0584) (0.0508,0.0580) (0.0515,0.0577) (0.0532,0.0582) (0.0539,0.0585) (0.0556,0.0579) (0.0563,0.0583) (0.0580,0.0578) (0.0587,0.0584) (0.0604,0.0581) (0.0611,0.0577) (0.0628,0.0583) (0.0635,0.0579) (0.0652,0.0584) (0.0659,0.0580) (0.0676,0.0577) (0.0683,0.0582)
(0.0461,0.0571) (0.0478,0.0567) (0.0485,0.0572) (0.0502,0.0568) (0.0509,0.0565) (0.0526,0.0570) (0.0533,0.0573) (0.0550,0.0567) (0.0557,0.0571) (0.0574,0.0566) (0.0581,0.0572) (0.0598,0.0569) (0.0605,0.0565) (0.0622,0.0571) (0.0629,0.0567) (0.0646,0.0572) (0.0653,0.0568) (0.0670,0.0565) (0.0677,0.0570)
(0.0469,0.0559) (0.0476,0.0555) (0.0493,0.0560) (0.0500,0.0556) (0.0517,0.0553) (0.0524,0.0558) (0.0541,0.0561) (0.0548,0.0555) (0.0565,0.0559) (0.0572,0.0554) (0.0589,0.0560) (0.0596,0.0557) (0.0613,0.0553) (0.0620,0.0559) (0.0637,0.0555) (0.0644,0.0560) (0.0661,0.0556) (0.0670,0.0558)
(0.0465,0.0547) (0.0472,0.0543) (0.0489,0.0548) (0.0496,0.0544) (0.0513,0.0541) (0.0520,0.0546) (0.0537,0.0549) (0.0544,0.0543) (0.0561,0.0547) (0.0568,0.0542) (0.0585,0.0548) (0.0592,0.0545) (0.0609,0.0541) (0.0616,0.0547) (0.0633,0.0543) (0.0640,0.0548) (0.0657,0.0544) (0.0664,0.0541) (0.0678,0.0546)
(0.0468,0.0535) (0.0482,0.0531) (0.0489,0.0536) (0.0506,0.0532) (0.0513,0.0529) (0.0530,0.0534) (0.0537,0.0537) (0.0554,0.0531) (0.0561,0.0535) (0.0578,0.0530) (0.0585,0.0536) (0.0602,0.0533) (0.0609,0.0529) (0.0626,0.0535) (0.0633,0.0531) (0.0650,0.0536) (0.0657,0.0532) (0.0673,0.0534)
(0.0476,0.0523) (0.0483,0.0519) (0.0500,0.0524) (0.0507,0.0520) (0.0524,0.0517) (0.0531,0.0522) (0.0548,0.0525) (0.0555,0.0519) (0.0572,0.0523) (0.0579,0.0518) (0.0596,0.0524) (0.0603,0.0521) (0.0620,0.0517) (0.0627,0.0523) (0.0644,0.0519) (0.0651,0.0524) (0.0667,0.0520)
(0.0482,0.0511) (0.0489,0.0507) (0.0506,0.0512) (0.0513,0.0508) (0.0530,0.0505) (0.0537,0.0510) (0.0554,0.0513) (0.0561,0.0507) (0.0578,0.0511) (0.0585,0.0506) (0.0602,0.0512) (0.0609,0.0509) (0.0626,0.0505) (0.0633,0.0511) (0.0650,0.0507) (0.0657,0.0512)
(0.0488,0.0499) (0.0495,0.0495) (0.0512,0.0500) (0.0519,0.0496) (0.0536,0.0493) (0.0543,0.0498) (0.0560,0.0501) (0.0567,0.0495) (0.0584,0.0499) (0.0591,0.0494) (0.0608,0.0500) (0.0615,0.0497) (0.0632,0.0493) (0.0639,0.0499) (0.0655,0.0495)
(0.0506,0.0487) (0.0513,0.0483) (0.0530,0.0488) (0.0537,0.0484) (0.0554,0.0481) (0.0561,0.0486) (0.0578,0.0489) (0.0585,0.0483) (0.0602,0.0487) (0.0609,0.0482) (0.0626,0.0488) (0.0634,0.0485)
(0.0512,0.0475) (0.0531,0.0471) (0.0549,0.0476) (0.0571,0.0472) (0.0585,0.0474) (0.0607,0.0470)
(0.0449,0.0629) (0.0447,0.0613) (0.0452,0.0571) (0.0466,0.0597) (0.0475,0.0473) (0.0563,0.0439) (0.0637,0.0424) (0.0733,0.0626) (0.0739,0.0591) (0.0726,0.0566) (0.0711,0.0603) (0.0703,0.0620) (0.0695,0.0629) (0.0692,0.0625) (0.0686,0.0626) (0.0724,0.0506) (0.0715,0.0496) (0.0701,0.0561) (0.0704,0.0567) (0.0679,0.0516) (0.0663,0.0489) (0.0633,0.0477) (0.0690,0.0652) (0.0688,0.0545)
};
\addplot[pts] coordinates {
(0.0523,0.0696) (0.0535,0.0699) (0.0545,0.0697) (0.0559,0.0695) (0.0571,0.0698) (0.0581,0.0696) (0.0595,0.0699) (0.0607,0.0697) (0.0617,0.0695) (0.0630,0.0698)
(0.0505,0.0684) (0.0514,0.0687) (0.0529,0.0685) (0.0541,0.0683) (0.0551,0.0686) (0.0565,0.0684) (0.0577,0.0687) (0.0587,0.0685) (0.0601,0.0683) (0.0613,0.0686) (0.0623,0.0684) (0.0637,0.0687) (0.0648,0.0685)
(0.0488,0.0672) (0.0497,0.0675) (0.0512,0.0673) (0.0524,0.0671) (0.0534,0.0674) (0.0548,0.0672) (0.0560,0.0675) (0.0570,0.0673) (0.0584,0.0671) (0.0596,0.0674) (0.0606,0.0672) (0.0620,0.0675) (0.0632,0.0673) (0.0642,0.0671) (0.0655,0.0674)
(0.0482,0.0660) (0.0495,0.0663) (0.0504,0.0661) (0.0516,0.0659) (0.0531,0.0662) (0.0540,0.0660) (0.0552,0.0663) (0.0567,0.0661) (0.0576,0.0659) (0.0588,0.0662) (0.0603,0.0660) (0.0612,0.0663) (0.0624,0.0661) (0.0639,0.0659) (0.0648,0.0662) (0.0660,0.0660)
(0.0476,0.0648) (0.0485,0.0651) (0.0500,0.0649) (0.0512,0.0647) (0.0522,0.0650) (0.0536,0.0648) (0.0548,0.0651) (0.0558,0.0649) (0.0572,0.0647) (0.0584,0.0650) (0.0594,0.0648) (0.0608,0.0651) (0.0620,0.0649) (0.0630,0.0647) (0.0644,0.0650) (0.0656,0.0648) (0.0666,0.0651)
(0.0470,0.0636) (0.0483,0.0639) (0.0492,0.0637) (0.0504,0.0635) (0.0519,0.0638) (0.0528,0.0636) (0.0540,0.0639) (0.0555,0.0637) (0.0564,0.0635) (0.0576,0.0638) (0.0591,0.0636) (0.0600,0.0639) (0.0612,0.0637) (0.0627,0.0635) (0.0636,0.0638) (0.0648,0.0636) (0.0663,0.0639) (0.0672,0.0637)
(0.0474,0.0624) (0.0489,0.0627) (0.0498,0.0625) (0.0510,0.0623) (0.0525,0.0626) (0.0534,0.0624) (0.0546,0.0627) (0.0561,0.0625) (0.0570,0.0623) (0.0582,0.0626) (0.0597,0.0624) (0.0606,0.0627) (0.0618,0.0625) (0.0633,0.0623) (0.0642,0.0626) (0.0654,0.0624) (0.0667,0.0627)
(0.0468,0.0612) (0.0479,0.0615) (0.0494,0.0613) (0.0506,0.0611) (0.0515,0.0614) (0.0530,0.0612) (0.0542,0.0615) (0.0551,0.0613) (0.0566,0.0611) (0.0578,0.0614) (0.0587,0.0612) (0.0602,0.0615) (0.0614,0.0613) (0.0623,0.0611) (0.0638,0.0614) (0.0650,0.0612) (0.0659,0.0615) (0.0673,0.0613)
(0.0476,0.0600) (0.0490,0.0603) (0.0499,0.0601) (0.0512,0.0599) (0.0526,0.0602) (0.0535,0.0600) (0.0548,0.0603) (0.0562,0.0601) (0.0571,0.0599) (0.0584,0.0602) (0.0598,0.0600) (0.0607,0.0603) (0.0620,0.0601) (0.0634,0.0599) (0.0643,0.0602) (0.0656,0.0600) (0.0668,0.0603) (0.0679,0.0601)
(0.0470,0.0588) (0.0483,0.0591) (0.0492,0.0589) (0.0506,0.0587) (0.0519,0.0590) (0.0528,0.0588) (0.0542,0.0591) (0.0555,0.0589) (0.0564,0.0587) (0.0578,0.0590) (0.0591,0.0588) (0.0600,0.0591) (0.0614,0.0589) (0.0627,0.0587) (0.0636,0.0590) (0.0650,0.0588) (0.0663,0.0591) (0.0672,0.0589)
(0.0474,0.0576) (0.0489,0.0579) (0.0497,0.0577) (0.0510,0.0575) (0.0525,0.0578) (0.0533,0.0576) (0.0546,0.0579) (0.0561,0.0577) (0.0569,0.0575) (0.0582,0.0578) (0.0597,0.0576) (0.0605,0.0579) (0.0618,0.0577) (0.0633,0.0575) (0.0641,0.0578) (0.0654,0.0576) (0.0669,0.0579) (0.0677,0.0577)
(0.0469,0.0564) (0.0480,0.0567) (0.0494,0.0565) (0.0506,0.0563) (0.0516,0.0566) (0.0530,0.0564) (0.0542,0.0567) (0.0552,0.0565) (0.0566,0.0563) (0.0578,0.0566) (0.0588,0.0564) (0.0602,0.0567) (0.0614,0.0565) (0.0624,0.0563) (0.0638,0.0566) (0.0650,0.0564) (0.0660,0.0567) (0.0673,0.0565)
(0.0476,0.0552) (0.0490,0.0555) (0.0499,0.0553) (0.0512,0.0551) (0.0526,0.0554) (0.0535,0.0552) (0.0548,0.0555) (0.0562,0.0553) (0.0571,0.0551) (0.0584,0.0554) (0.0598,0.0552) (0.0607,0.0555) (0.0620,0.0553) (0.0634,0.0551) (0.0643,0.0554) (0.0656,0.0552) (0.0667,0.0555)
(0.0470,0.0540) (0.0483,0.0543) (0.0492,0.0541) (0.0506,0.0539) (0.0519,0.0542) (0.0528,0.0540) (0.0542,0.0543) (0.0555,0.0541) (0.0564,0.0539) (0.0578,0.0542) (0.0591,0.0540) (0.0600,0.0543) (0.0614,0.0541) (0.0627,0.0539) (0.0636,0.0542) (0.0650,0.0540) (0.0663,0.0543) (0.0671,0.0541)
(0.0477,0.0528) (0.0486,0.0531) (0.0500,0.0529) (0.0513,0.0527) (0.0522,0.0530) (0.0536,0.0528) (0.0549,0.0531) (0.0558,0.0529) (0.0572,0.0527) (0.0585,0.0530) (0.0594,0.0528) (0.0608,0.0531) (0.0621,0.0529) (0.0630,0.0527) (0.0644,0.0530) (0.0657,0.0528) (0.0665,0.0531)
(0.0482,0.0516) (0.0495,0.0519) (0.0504,0.0517) (0.0518,0.0515) (0.0531,0.0518) (0.0540,0.0516) (0.0554,0.0519) (0.0567,0.0517) (0.0576,0.0515) (0.0590,0.0518) (0.0603,0.0516) (0.0612,0.0519) (0.0626,0.0517) (0.0639,0.0515) (0.0648,0.0518) (0.0660,0.0516)
(0.0488,0.0504) (0.0501,0.0507) (0.0510,0.0505) (0.0524,0.0503) (0.0537,0.0506) (0.0546,0.0504) (0.0560,0.0507) (0.0573,0.0505) (0.0582,0.0503) (0.0596,0.0506) (0.0609,0.0504) (0.0618,0.0507) (0.0632,0.0505) (0.0645,0.0503) (0.0653,0.0506)
(0.0494,0.0492) (0.0503,0.0495) (0.0517,0.0493) (0.0530,0.0491) (0.0539,0.0494) (0.0553,0.0492) (0.0566,0.0495) (0.0575,0.0493) (0.0589,0.0491) (0.0602,0.0494) (0.0611,0.0492) (0.0625,0.0495) (0.0638,0.0493) (0.0647,0.0491)
};
\end{axis}
% ---------------- four dimensions
\begin{axis}[rplot, at={(422pt,58pt)}, title={four dimensions}]
\addplot[diag] coordinates {(0.0376,0.0376) (0.1024,0.1024)};
\addplot[pts] coordinates {
(0.0706,0.0739) (0.0771,0.0676) (0.0615,0.0782) (0.0568,0.0766) (0.0542,0.0755) (0.0552,0.0751) (0.0544,0.0733) (0.0572,0.0733) (0.0594,0.0741) (0.0591,0.0736) (0.0626,0.0733) (0.0642,0.0745) (0.0645,0.0713) (0.0605,0.0725) (0.0613,0.0717) (0.0527,0.0716) (0.0580,0.0718)
(0.0518,0.0703) (0.0525,0.0708) (0.0542,0.0705) (0.0549,0.0701) (0.0566,0.0707) (0.0573,0.0704) (0.0590,0.0700) (0.0597,0.0706) (0.0614,0.0703) (0.0621,0.0708) (0.0638,0.0702)
(0.0496,0.0695) (0.0503,0.0690) (0.0520,0.0694) (0.0527,0.0697) (0.0544,0.0691) (0.0551,0.0696) (0.0568,0.0692) (0.0575,0.0689) (0.0592,0.0695) (0.0599,0.0690) (0.0616,0.0694) (0.0623,0.0697) (0.0640,0.0691) (0.0652,0.0695)
(0.0490,0.0683) (0.0497,0.0678) (0.0514,0.0682) (0.0521,0.0685) (0.0538,0.0679) (0.0545,0.0684) (0.0562,0.0680) (0.0569,0.0677) (0.0586,0.0683) (0.0593,0.0678) (0.0610,0.0682) (0.0617,0.0685) (0.0634,0.0679) (0.0641,0.0683) (0.0658,0.0680) (0.0670,0.0684)
(0.0484,0.0671) (0.0491,0.0666) (0.0508,0.0670) (0.0515,0.0673) (0.0532,0.0667) (0.0539,0.0672) (0.0556,0.0668) (0.0563,0.0665) (0.0580,0.0671) (0.0587,0.0666) (0.0604,0.0670) (0.0611,0.0673) (0.0628,0.0667) (0.0635,0.0671) (0.0652,0.0668) (0.0659,0.0665) (0.0676,0.0670)
(0.0478,0.0659) (0.0485,0.0654) (0.0502,0.0658) (0.0509,0.0661) (0.0526,0.0655) (0.0533,0.0660) (0.0550,0.0656) (0.0557,0.0653) (0.0574,0.0659) (0.0581,0.0654) (0.0598,0.0658) (0.0605,0.0661) (0.0622,0.0655) (0.0629,0.0659) (0.0646,0.0656) (0.0653,0.0653) (0.0670,0.0658) (0.0682,0.0655)
(0.0472,0.0647) (0.0479,0.0642) (0.0496,0.0646) (0.0503,0.0649) (0.0520,0.0643) (0.0527,0.0648) (0.0544,0.0644) (0.0551,0.0641) (0.0568,0.0647) (0.0575,0.0642) (0.0592,0.0646) (0.0599,0.0649) (0.0616,0.0643) (0.0623,0.0647) (0.0640,0.0644) (0.0647,0.0641) (0.0664,0.0646) (0.0671,0.0649) (0.0688,0.0643)
(0.0466,0.0635) (0.0473,0.0630) (0.0490,0.0634) (0.0497,0.0637) (0.0514,0.0631) (0.0521,0.0636) (0.0538,0.0632) (0.0545,0.0629) (0.0562,0.0635) (0.0569,0.0630) (0.0586,0.0634) (0.0593,0.0637) (0.0610,0.0631) (0.0617,0.0635) (0.0634,0.0632) (0.0641,0.0629) (0.0658,0.0634) (0.0665,0.0637) (0.0682,0.0631) (0.0694,0.0635)
(0.0464,0.0623) (0.0477,0.0618) (0.0484,0.0622) (0.0501,0.0625) (0.0508,0.0619) (0.0525,0.0624) (0.0532,0.0620) (0.0549,0.0617) (0.0556,0.0623) (0.0573,0.0618) (0.0580,0.0622) (0.0597,0.0625) (0.0604,0.0619) (0.0621,0.0623) (0.0628,0.0620) (0.0645,0.0617) (0.0652,0.0622) (0.0669,0.0625) (0.0676,0.0619) (0.0693,0.0623) (0.0700,0.0620)
(0.0465,0.0611) (0.0482,0.0606) (0.0489,0.0610) (0.0506,0.0613) (0.0513,0.0607) (0.0530,0.0612) (0.0537,0.0608) (0.0554,0.0605) (0.0561,0.0611) (0.0578,0.0606) (0.0585,0.0610) (0.0602,0.0613) (0.0609,0.0607) (0.0626,0.0611) (0.0633,0.0608) (0.0650,0.0605) (0.0657,0.0610) (0.0674,0.0613) (0.0681,0.0607) (0.0697,0.0611)
(0.0460,0.0599) (0.0476,0.0594) (0.0483,0.0598) (0.0500,0.0601) (0.0507,0.0595) (0.0524,0.0600) (0.0531,0.0596) (0.0548,0.0593) (0.0555,0.0599) (0.0572,0.0594) (0.0579,0.0598) (0.0596,0.0601) (0.0603,0.0595) (0.0620,0.0599) (0.0627,0.0596) (0.0644,0.0593) (0.0651,0.0598) (0.0668,0.0601) (0.0675,0.0595) (0.0692,0.0599) (0.0703,0.0596)
(0.0471,0.0587) (0.0478,0.0582) (0.0495,0.0586) (0.0502,0.0589) (0.0519,0.0583) (0.0526,0.0588) (0.0543,0.0584) (0.0550,0.0581) (0.0567,0.0587) (0.0574,0.0582) (0.0591,0.0586) (0.0598,0.0589) (0.0615,0.0583) (0.0622,0.0587) (0.0639,0.0584) (0.0646,0.0581) (0.0663,0.0586) (0.0670,0.0589) (0.0687,0.0583) (0.0698,0.0587)
(0.0463,0.0575) (0.0470,0.0570) (0.0487,0.0574) (0.0494,0.0577) (0.0511,0.0571) (0.0518,0.0576) (0.0535,0.0572) (0.0542,0.0569) (0.0559,0.0575) (0.0566,0.0570) (0.0583,0.0574) (0.0590,0.0577) (0.0607,0.0571) (0.0614,0.0575) (0.0631,0.0572) (0.0638,0.0569) (0.0655,0.0574) (0.0662,0.0577) (0.0679,0.0571) (0.0686,0.0575) (0.0701,0.0572)
(0.0469,0.0563) (0.0484,0.0558) (0.0491,0.0562) (0.0508,0.0565) (0.0515,0.0559) (0.0532,0.0564) (0.0539,0.0560) (0.0556,0.0557) (0.0563,0.0563) (0.0580,0.0558) (0.0587,0.0562) (0.0604,0.0565) (0.0611,0.0559) (0.0628,0.0563) (0.0635,0.0560) (0.0652,0.0557) (0.0659,0.0562) (0.0676,0.0565) (0.0683,0.0559) (0.0697,0.0563)
(0.0475,0.0551) (0.0482,0.0546) (0.0499,0.0550) (0.0506,0.0553) (0.0523,0.0547) (0.0530,0.0552) (0.0547,0.0548) (0.0554,0.0545) (0.0571,0.0551) (0.0578,0.0546) (0.0595,0.0550) (0.0602,0.0553) (0.0619,0.0547) (0.0626,0.0551) (0.0643,0.0548) (0.0650,0.0545) (0.0667,0.0550) (0.0674,0.0553) (0.0691,0.0547) (0.0700,0.0551)
(0.0467,0.0539) (0.0481,0.0534) (0.0488,0.0538) (0.0505,0.0541) (0.0512,0.0535) (0.0529,0.0540) (0.0536,0.0536) (0.0553,0.0533) (0.0560,0.0539) (0.0577,0.0534) (0.0584,0.0538) (0.0601,0.0541) (0.0608,0.0535) (0.0625,0.0539) (0.0632,0.0536) (0.0649,0.0533) (0.0656,0.0538) (0.0673,0.0541) (0.0680,0.0535) (0.0695,0.0539)
(0.0476,0.0527) (0.0483,0.0522) (0.0500,0.0526) (0.0507,0.0529) (0.0524,0.0523) (0.0531,0.0528) (0.0548,0.0524) (0.0555,0.0521) (0.0572,0.0527) (0.0579,0.0522) (0.0596,0.0526) (0.0603,0.0529) (0.0620,0.0523) (0.0627,0.0527) (0.0644,0.0524) (0.0651,0.0521) (0.0668,0.0526) (0.0675,0.0529) (0.0692,0.0523) (0.0701,0.0527)
(0.0482,0.0515) (0.0489,0.0510) (0.0506,0.0514) (0.0513,0.0517) (0.0530,0.0511) (0.0537,0.0516) (0.0554,0.0512) (0.0561,0.0509) (0.0578,0.0515) (0.0585,0.0510) (0.0602,0.0514) (0.0609,0.0517) (0.0626,0.0511) (0.0633,0.0515) (0.0650,0.0512) (0.0657,0.0509) (0.0674,0.0514) (0.0681,0.0517) (0.0695,0.0511)
(0.0488,0.0503) (0.0495,0.0498) (0.0512,0.0502) (0.0519,0.0505) (0.0536,0.0499) (0.0543,0.0504) (0.0560,0.0500) (0.0567,0.0497) (0.0584,0.0503) (0.0591,0.0498) (0.0608,0.0502) (0.0615,0.0505) (0.0632,0.0499) (0.0639,0.0503) (0.0656,0.0500) (0.0663,0.0497) (0.0680,0.0502) (0.0688,0.0505)
(0.0494,0.0491) (0.0501,0.0486) (0.0518,0.0490) (0.0525,0.0493) (0.0542,0.0487) (0.0549,0.0492) (0.0566,0.0488) (0.0573,0.0485) (0.0590,0.0491) (0.0597,0.0486) (0.0614,0.0490) (0.0621,0.0493) (0.0638,0.0487) (0.0645,0.0491) (0.0662,0.0488) (0.0669,0.0485) (0.0684,0.0490)
(0.0500,0.0479) (0.0507,0.0474) (0.0524,0.0478) (0.0531,0.0481) (0.0548,0.0475) (0.0555,0.0480) (0.0572,0.0476) (0.0579,0.0473) (0.0596,0.0479) (0.0603,0.0474) (0.0620,0.0478) (0.0627,0.0481) (0.0644,0.0475) (0.0651,0.0479) (0.0665,0.0476)
(0.0518,0.0467) (0.0525,0.0462) (0.0542,0.0466) (0.0549,0.0469) (0.0566,0.0463) (0.0573,0.0468) (0.0590,0.0464) (0.0597,0.0461) (0.0614,0.0467) (0.0621,0.0462) (0.0638,0.0466) (0.0646,0.0469)
(0.0536,0.0455) (0.0555,0.0451) (0.0573,0.0456) (0.0597,0.0452) (0.0616,0.0454)
(0.0433,0.0508) (0.0436,0.0502) (0.0446,0.0492) (0.0447,0.0601) (0.0500,0.0426) (0.0518,0.0443) (0.0525,0.0453) (0.0546,0.0439) (0.0549,0.0441) (0.0582,0.0453) (0.0626,0.0459) (0.0687,0.0463) (0.0708,0.0512) (0.0728,0.0545) (0.0701,0.0553) (0.0708,0.0546) (0.0704,0.0575) (0.0704,0.0603) (0.0726,0.0634) (0.0714,0.0648) (0.0692,0.0655) (0.0667,0.0668) (0.0480,0.0652) (0.0476,0.0672) (0.0457,0.0524) (0.0463,0.0538) (0.0466,0.0515) (0.0455,0.0534) (0.0462,0.0551)
};
\addplot[pts] coordinates {
(0.0506,0.0688) (0.0515,0.0691) (0.0529,0.0689) (0.0542,0.0687) (0.0551,0.0690) (0.0565,0.0688) (0.0578,0.0691) (0.0587,0.0689) (0.0601,0.0687) (0.0614,0.0690) (0.0623,0.0688) (0.0637,0.0691) (0.0647,0.0689)
(0.0500,0.0676) (0.0509,0.0679) (0.0523,0.0677) (0.0536,0.0675) (0.0545,0.0678) (0.0559,0.0676) (0.0572,0.0679) (0.0581,0.0677) (0.0595,0.0675) (0.0608,0.0678) (0.0617,0.0676) (0.0631,0.0679) (0.0644,0.0677) (0.0653,0.0675) (0.0666,0.0678)
(0.0494,0.0664) (0.0503,0.0667) (0.0517,0.0665) (0.0530,0.0663) (0.0539,0.0666) (0.0553,0.0664) (0.0566,0.0667) (0.0575,0.0665) (0.0589,0.0663) (0.0602,0.0666) (0.0611,0.0664) (0.0625,0.0667) (0.0638,0.0665) (0.0647,0.0663) (0.0661,0.0666) (0.0672,0.0664)
(0.0488,0.0652) (0.0497,0.0655) (0.0511,0.0653) (0.0524,0.0651) (0.0533,0.0654) (0.0547,0.0652) (0.0560,0.0655) (0.0569,0.0653) (0.0583,0.0651) (0.0596,0.0654) (0.0605,0.0652) (0.0619,0.0655) (0.0632,0.0653) (0.0641,0.0651) (0.0655,0.0654) (0.0668,0.0652) (0.0677,0.0655)
(0.0482,0.0640) (0.0491,0.0643) (0.0505,0.0641) (0.0518,0.0639) (0.0527,0.0642) (0.0541,0.0640) (0.0554,0.0643) (0.0563,0.0641) (0.0577,0.0639) (0.0590,0.0642) (0.0599,0.0640) (0.0613,0.0643) (0.0626,0.0641) (0.0635,0.0639) (0.0649,0.0642) (0.0662,0.0640) (0.0671,0.0643) (0.0684,0.0641)
(0.0476,0.0628) (0.0485,0.0631) (0.0499,0.0629) (0.0512,0.0627) (0.0521,0.0630) (0.0535,0.0628) (0.0548,0.0631) (0.0557,0.0629) (0.0571,0.0627) (0.0584,0.0630) (0.0593,0.0628) (0.0607,0.0631) (0.0620,0.0629) (0.0629,0.0627) (0.0643,0.0630) (0.0656,0.0628) (0.0665,0.0631) (0.0679,0.0629) (0.0690,0.0627)
(0.0470,0.0616) (0.0479,0.0619) (0.0493,0.0617) (0.0506,0.0615) (0.0515,0.0618) (0.0529,0.0616) (0.0542,0.0619) (0.0551,0.0617) (0.0565,0.0615) (0.0578,0.0618) (0.0587,0.0616) (0.0601,0.0619) (0.0614,0.0617) (0.0623,0.0615) (0.0637,0.0618) (0.0650,0.0616) (0.0659,0.0619) (0.0673,0.0617) (0.0686,0.0615) (0.0695,0.0618)
(0.0475,0.0604) (0.0488,0.0607) (0.0497,0.0605) (0.0511,0.0603) (0.0524,0.0606) (0.0533,0.0604) (0.0547,0.0607) (0.0560,0.0605) (0.0569,0.0603) (0.0583,0.0606) (0.0596,0.0604) (0.0605,0.0607) (0.0619,0.0605) (0.0632,0.0603) (0.0641,0.0606) (0.0655,0.0604) (0.0668,0.0607) (0.0677,0.0605) (0.0689,0.0603)
(0.0469,0.0592) (0.0482,0.0595) (0.0491,0.0593) (0.0505,0.0591) (0.0518,0.0594) (0.0527,0.0592) (0.0541,0.0595) (0.0554,0.0593) (0.0563,0.0591) (0.0577,0.0594) (0.0590,0.0592) (0.0599,0.0595) (0.0613,0.0593) (0.0626,0.0591) (0.0635,0.0594) (0.0649,0.0592) (0.0662,0.0595) (0.0671,0.0593) (0.0685,0.0591) (0.0696,0.0594)
(0.0476,0.0580) (0.0485,0.0583) (0.0499,0.0581) (0.0512,0.0579) (0.0521,0.0582) (0.0535,0.0580) (0.0548,0.0583) (0.0557,0.0581) (0.0571,0.0579) (0.0584,0.0582) (0.0593,0.0580) (0.0607,0.0583) (0.0620,0.0581) (0.0629,0.0579) (0.0643,0.0582) (0.0656,0.0580) (0.0665,0.0583) (0.0679,0.0581) (0.0690,0.0579)
(0.0470,0.0568) (0.0479,0.0571) (0.0493,0.0569) (0.0506,0.0567) (0.0515,0.0570) (0.0529,0.0568) (0.0542,0.0571) (0.0551,0.0569) (0.0565,0.0567) (0.0578,0.0570) (0.0587,0.0568) (0.0601,0.0571) (0.0614,0.0569) (0.0623,0.0567) (0.0637,0.0570) (0.0650,0.0568) (0.0659,0.0571) (0.0673,0.0569) (0.0686,0.0567) (0.0695,0.0570)
(0.0475,0.0556) (0.0488,0.0559) (0.0497,0.0557) (0.0511,0.0555) (0.0524,0.0558) (0.0533,0.0556) (0.0547,0.0559) (0.0560,0.0557) (0.0569,0.0555) (0.0583,0.0558) (0.0596,0.0556) (0.0605,0.0559) (0.0619,0.0557) (0.0632,0.0555) (0.0641,0.0558) (0.0655,0.0556) (0.0668,0.0559) (0.0677,0.0557) (0.0689,0.0555)
(0.0482,0.0544) (0.0491,0.0547) (0.0505,0.0545) (0.0518,0.0543) (0.0527,0.0546) (0.0541,0.0544) (0.0554,0.0547) (0.0563,0.0545) (0.0577,0.0543) (0.0590,0.0546) (0.0599,0.0544) (0.0613,0.0547) (0.0626,0.0545) (0.0635,0.0543) (0.0649,0.0546) (0.0662,0.0544) (0.0671,0.0547) (0.0685,0.0545) (0.0695,0.0543)
(0.0476,0.0532) (0.0485,0.0535) (0.0499,0.0533) (0.0512,0.0531) (0.0521,0.0534) (0.0535,0.0532) (0.0548,0.0535) (0.0557,0.0533) (0.0571,0.0531) (0.0584,0.0534) (0.0593,0.0532) (0.0607,0.0535) (0.0620,0.0533) (0.0629,0.0531) (0.0643,0.0534) (0.0656,0.0532) (0.0665,0.0535) (0.0679,0.0533) (0.0690,0.0531)
(0.0481,0.0520) (0.0494,0.0523) (0.0503,0.0521) (0.0517,0.0519) (0.0530,0.0522) (0.0539,0.0520) (0.0553,0.0523) (0.0566,0.0521) (0.0575,0.0519) (0.0589,0.0522) (0.0602,0.0520) (0.0611,0.0523) (0.0625,0.0521) (0.0638,0.0519) (0.0647,0.0522) (0.0661,0.0520) (0.0674,0.0523) (0.0683,0.0521) (0.0695,0.0519)
(0.0488,0.0508) (0.0497,0.0511) (0.0511,0.0509) (0.0524,0.0507) (0.0533,0.0510) (0.0547,0.0508) (0.0560,0.0511) (0.0569,0.0509) (0.0583,0.0507) (0.0596,0.0510) (0.0605,0.0508) (0.0619,0.0511) (0.0632,0.0509) (0.0641,0.0507) (0.0655,0.0510) (0.0668,0.0508) (0.0677,0.0511) (0.0689,0.0509)
(0.0494,0.0496) (0.0503,0.0499) (0.0517,0.0497) (0.0530,0.0495) (0.0539,0.0498) (0.0553,0.0496) (0.0566,0.0499) (0.0575,0.0497) (0.0589,0.0495) (0.0602,0.0498) (0.0611,0.0496) (0.0625,0.0499) (0.0638,0.0497) (0.0647,0.0495) (0.0661,0.0498) (0.0674,0.0496) (0.0683,0.0499)
(0.0500,0.0484) (0.0509,0.0487) (0.0523,0.0485) (0.0536,0.0483) (0.0545,0.0486) (0.0559,0.0484) (0.0572,0.0487) (0.0581,0.0485) (0.0595,0.0483) (0.0608,0.0486) (0.0617,0.0484) (0.0631,0.0487) (0.0644,0.0485) (0.0653,0.0483) (0.0667,0.0486) (0.0677,0.0484)
(0.0506,0.0472) (0.0515,0.0475) (0.0529,0.0473) (0.0542,0.0471) (0.0551,0.0474) (0.0565,0.0472) (0.0578,0.0475) (0.0587,0.0473) (0.0601,0.0471) (0.0614,0.0474) (0.0623,0.0472) (0.0637,0.0475) (0.0650,0.0473) (0.0659,0.0471)
};
\end{axis}
\end{tikzpicture}
\end{document}
